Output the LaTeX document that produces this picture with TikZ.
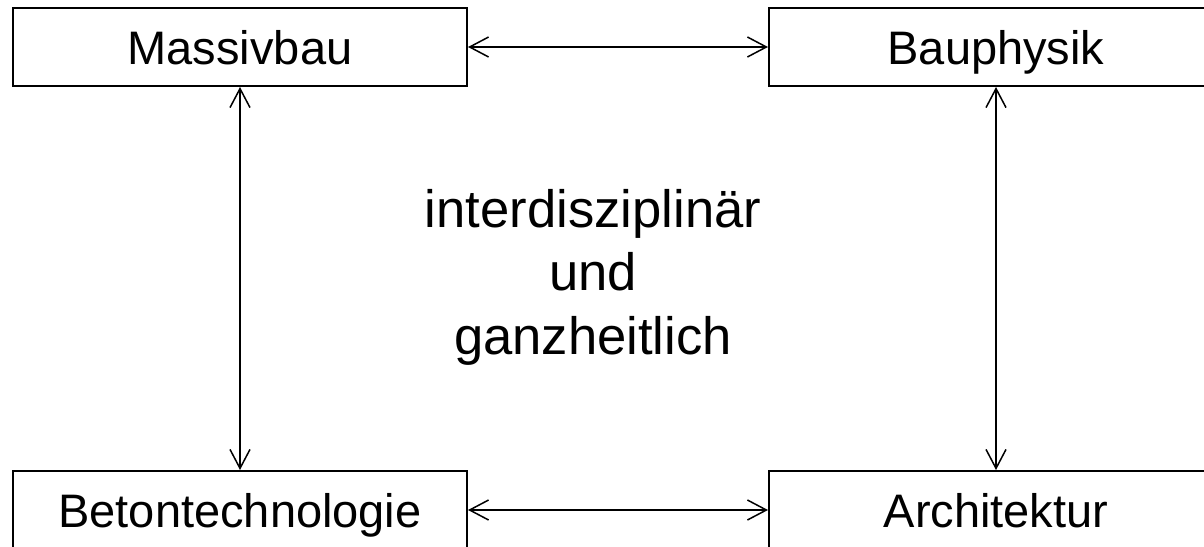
\documentclass[tikz,border=0pt]{standalone}
\usepackage{fontspec}
\setmainfont{Liberation Sans}
\usetikzlibrary{arrows.meta}
\tikzset{
  field/.style={draw, line width=1pt, minimum width=227pt, minimum height=39pt,
    inner sep=0pt, text height=17.5pt, text depth=0pt,
    font=\fontsize{23.5}{28}\selectfont},
  link/.style={line width=0.75pt, {Straight Barb[length=9.5pt,width=10pt]}-{Straight Barb[length=9.5pt,width=10pt]}}
}
\begin{document}
\begin{tikzpicture}[x=0.5pt, y=-0.5pt]
  \useasboundingbox (0,0) rectangle (1204,546);
  \clip (0,0) rectangle (1204,546);
  \fill[white] (0,0) rectangle (1204,546);

  % four disciplines
  \node[field] (mb) at (240,47)  {Massivbau};
  \node[field] (bp) at (996,47)  {Bauphysik};
  \node[field] (bt) at (240,510) {Betontechnologie};
  \node[field] (ar) at (996,510) {Architektur};

  % central statement
  \node[align=center, inner sep=0pt, font=\fontsize{26.3}{31.75}\selectfont]
    (mid) at (593,277) {interdisziplinär\\und\\ganzheitlich};

  % mutual links
  \draw[link] (mb.east)  -- (bp.west);
  \draw[link] (bt.east)  -- (ar.west);
  \draw[link] (mb.south) -- (bt.north);
  \draw[link] (bp.south) -- (ar.north);
\end{tikzpicture}
\end{document}
